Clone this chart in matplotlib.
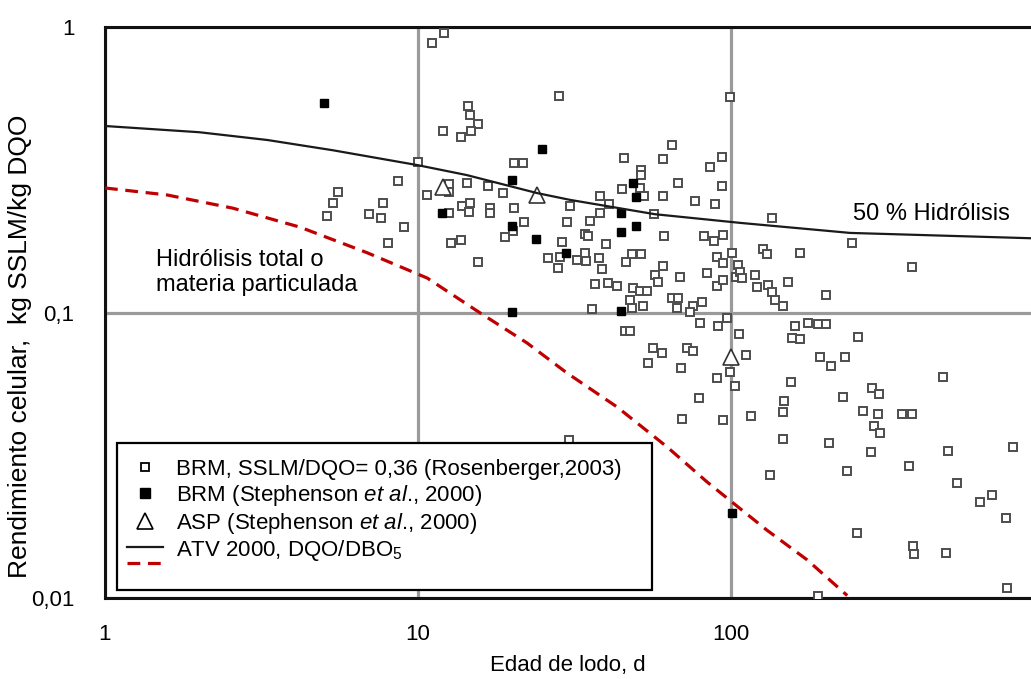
import matplotlib
matplotlib.use('Agg')
import matplotlib.pyplot as plt
from matplotlib.lines import Line2D
from matplotlib.patches import Rectangle
from matplotlib.legend_handler import HandlerBase

plt.rcParams['font.family'] = ['Liberation Sans', 'DejaVu Sans']
plt.rcParams['mathtext.fontset'] = 'custom'
plt.rcParams['mathtext.rm'] = 'Liberation Sans'
plt.rcParams['mathtext.it'] = 'Liberation Sans:italic'

#====================================+
# Data |
#====================================+
# BRM, SSLM/DQO = 0,36 (Rosenberger, 2003)  -> hollow squares
brm_ros_x = [5.12, 5.35, 5.55, 6.97, 7.62, 7.73, 8.63, 9.02, 8.02, 10.0, 10.7,
             11.1, 12.1, 14.4, 14.7, 15.6, 14.8, 13.7, 12.0, 20.3, 21.6,
             12.6, 12.6, 14.3, 16.7, 18.7, 12.6, 13.8, 14.7, 14.6, 17.0, 17.0,
             20.3, 21.8, 19.0, 20.1, 12.7, 13.7, 15.6, 28.2, 26.0, 28.0, 28.4,
             30.6, 29.9, 35.5, 38.1, 38.1, 40.8, 44.9, 51.2, 52.7, 60.6, 67.7,
             45.5, 60.6, 64.8, 51.6, 51.6, 93.6, 85.7, 93.6, 76.7, 88.9, 56.8,
             28.8, 34.2, 34.9, 39.9, 61.1, 32.2, 34.2, 34.4, 37.9, 38.7, 46.2,
             48.3, 51.6, 60.6, 57.2, 58.4, 68.7, 82.0, 88.3, 94.3, 90.2, 94.3,
             101, 83.8, 90.2, 94.3, 104, 36.8, 40.5, 43.2, 48.6, 51.2, 53.9,
             47.6, 48.3, 52.4, 64.8, 67.7, 67.2, 75.6, 80.8, 73.9, 36.0, 79.6,
             90.8, 97.1, 45.8, 47.6, 56.3, 60.2, 72.3, 75.6, 54.3, 69.2, 90.2,
             99.3, 79.0, 69.7, 94.3, 30.4, 103, 106, 160, 176, 190, 201, 157,
             166, 255, 112, 192, 231, 209, 155, 148, 147, 116, 228, 282, 297,
             264, 295, 352, 379, 286, 299, 476, 146, 206, 280, 493, 796, 370,
             235, 133, 527, 682, 625, 756, 253, 381, 383, 486, 762, 190, 135,
             244, 166, 126, 130, 105, 107, 108, 119, 121, 131, 135, 138, 147,
             152, 201, 379, 99.3]
brm_ros_y = [0.218, 0.242, 0.264, 0.221, 0.214, 0.242, 0.289, 0.199, 0.175, 0.336, 0.258,
             0.879, 0.953, 0.529, 0.492, 0.457, 0.432, 0.412, 0.432, 0.334, 0.334,
             0.282, 0.264, 0.284, 0.277, 0.262, 0.223, 0.236, 0.242, 0.225, 0.232, 0.223,
             0.232, 0.207, 0.184, 0.193, 0.175, 0.180, 0.150, 0.573, 0.155, 0.143, 0.156,
             0.236, 0.207, 0.209, 0.223, 0.256, 0.240, 0.271, 0.273, 0.256, 0.256, 0.284,
             0.348, 0.345, 0.386, 0.316, 0.303, 0.351, 0.324, 0.277, 0.246, 0.240, 0.221,
             0.177, 0.188, 0.185, 0.174, 0.185, 0.153, 0.162, 0.151, 0.155, 0.142, 0.150,
             0.160, 0.160, 0.146, 0.135, 0.128, 0.133, 0.185, 0.178, 0.187, 0.156, 0.149,
             0.162, 0.137, 0.124, 0.130, 0.133, 0.126, 0.127, 0.124, 0.122, 0.119, 0.119,
             0.111, 0.104, 0.105, 0.112, 0.112, 0.104, 0.105, 0.109, 0.1005, 0.103, 0.0919,
             0.0897, 0.0957, 0.0861, 0.0861, 0.0751, 0.0721, 0.0751, 0.0733, 0.0665, 0.0639, 0.0590,
             0.0619, 0.0502, 0.0424, 0.0420, 0.0357, 0.0553, 0.0841, 0.0897, 0.0919, 0.0912, 0.0912, 0.0814,
             0.0807, 0.0820, 0.0710, 0.0699, 0.0699, 0.0650, 0.0571, 0.0490, 0.0448, 0.0434, 0.0506, 0.0544, 0.0518,
             0.0452, 0.0441, 0.0441, 0.0441, 0.0400, 0.0379, 0.0594, 0.0360, 0.0349, 0.0325, 0.0327, 0.0338, 0.0290,
             0.0279, 0.0270, 0.0253, 0.0230, 0.0217, 0.0191, 0.0169, 0.0152, 0.0143, 0.0144, 0.0108, 0.0102, 0.214,
             0.175, 0.162, 0.167, 0.160, 0.147, 0.139, 0.132, 0.135, 0.123, 0.125, 0.118, 0.111, 0.105,
             0.128, 0.115, 0.144, 0.569]

# BRM (Stephenson et al., 2000) -> filled squares
brm_ste_x = [5.01, 24.9, 20.0, 48.6, 49.7, 44.5, 44.5, 49.7, 11.9, 20.0, 23.8, 29.7, 20.0, 44.5, 101]
brm_ste_y = [0.542, 0.374, 0.291, 0.284, 0.254, 0.223, 0.191, 0.201, 0.223, 0.201, 0.181, 0.162, 0.1005, 0.101, 0.0199]

# ASP (Stephenson et al., 2000) -> hollow triangles
asp_x = [12.0, 24.0, 100]
asp_y = [0.275, 0.258, 0.0699]

# ATV 2000 curves
atv50_x = [1, 2.0, 3.3, 5.35, 10, 14.3, 24, 30.6, 57, 107, 240, 908]
atv50_y = [0.450, 0.428, 0.402, 0.370, 0.328, 0.303, 0.262, 0.248, 0.221, 0.206, 0.190, 0.182]
atvtot_x = [1, 1.58, 2.56, 4.2, 6.87, 10.7, 15.8, 22.3, 29.9, 43.2, 62.5, 83.8, 99, 130, 175, 235]
atvtot_y = [0.273, 0.258, 0.232, 0.199, 0.162, 0.132, 0.0996, 0.0782, 0.0614, 0.0467, 0.0338,
            0.0255, 0.0220, 0.0173, 0.0136, 0.0102]

xticks = [1, 10, 100]
xtick_labels = ['1', '10', '100']
yticks = [0.01, 0.1, 1]
ytick_labels = ['0,01', '0,1', '1']


class HandlerStack(HandlerBase):
    # two line handles drawn one under the other
    def create_artists(self, legend, orig_handle, xdescent, ydescent, width, height, fontsize, trans):
        arts = []
        y0 = height / 2 - ydescent + 1
        for i, h in enumerate(orig_handle):
            ln = Line2D([-xdescent, -xdescent + width], [y0 - i * 11.5, y0 - i * 11.5])
            ln.update_from(h)
            ln.set_transform(trans)
            arts.append(ln)
        return arts


#================+
# Graph Plotting |
#================+
fig = plt.figure(figsize=(10.31, 6.79), dpi=100)
ax = fig.add_axes([105 / 1031, 1 - 598 / 679, 926 / 1031, 571 / 679])
ax.set_xscale('log')
ax.set_yscale('log')

ax.plot(brm_ros_x, brm_ros_y, ls='none', marker='s', ms=5.5, mfc='white', mec='#4d4d4d', mew=1.4, zorder=3)
ax.plot(brm_ste_x, brm_ste_y, ls='none', marker='s', ms=6, color='black', zorder=3)
ax.plot(asp_x, asp_y, ls='none', marker='^', ms=11, mfc='white', mec='#333333', mew=1.2, zorder=4)
l50, = ax.plot(atv50_x, atv50_y, color='#1a1a1a', lw=1.6, zorder=5)
ltot, = ax.plot(atvtot_x, atvtot_y, color='#c00000', lw=2.3, dashes=(4, 2.4), zorder=5)

ax.set_xlim(1, 908)
ax.set_ylim(0.01, 1)
ax.set_xticks(xticks)
ax.set_xticklabels(xtick_labels)
ax.set_yticks(yticks)
ax.set_yticklabels(ytick_labels)
ax.minorticks_off()
ax.tick_params(axis='both', length=0, labelsize=16)
ax.tick_params(axis='x', pad=19)
ax.tick_params(axis='y', pad=22)
ax.grid(True, which='major', color='#9a9a9a', lw=2.3)
ax.set_axisbelow(True)

for s in ['left', 'top', 'bottom']:
    ax.spines[s].set_linewidth(2.2)
    ax.spines[s].set_color('#111111')
ax.spines['right'].set_visible(False)

ax.set_xlabel('Edad de lodo, d', fontsize=16, labelpad=7)
ax.set_ylabel('Rendimiento celular,  kg SSLM/kg DQO', fontsize=19)
ax.yaxis.set_label_coords(-0.079, 0.44)

ax.text(0.808, 0.672, '50 % Hidrólisis', transform=ax.transAxes, fontsize=17, va='center', ha='left')
ax.text(0.055, 0.57, 'Hidrólisis total o\nmateria particulada', transform=ax.transAxes,
        fontsize=17, va='center', ha='left', linespacing=1.2)

# legend frame drawn by hand, the handle of the last entry is two lines
ax.add_patch(Rectangle((0.013, 0.014), 0.578, 0.257, transform=ax.transAxes,
                       facecolor='white', edgecolor='black', lw=1.6, zorder=6))
h1 = Line2D([], [], ls='none', marker='s', ms=6, mfc='white', mec='black', mew=1.3)
h2 = Line2D([], [], ls='none', marker='s', ms=6.5, color='black')
h3 = Line2D([], [], ls='none', marker='^', ms=11, mfc='white', mec='black', mew=1.2)
labels = ['BRM, SSLM/DQO= 0,36 (Rosenberger,2003)',
          r'BRM (Stephenson $\mathit{et\ al}$., 2000)',
          r'ASP (Stephenson $\mathit{et\ al}$., 2000)',
          r'ATV 2000, DQO/DBO$_\mathrm{5}$']
lgd = ax.legend([h1, h2, h3, (l50, ltot)], labels, handler_map={tuple: HandlerStack()},
                loc='upper left', bbox_to_anchor=(0.0238, 0.243), borderaxespad=0, borderpad=0,
                frameon=False, fontsize=16, handlelength=1.6, handletextpad=0.6, labelspacing=0.12)
lgd.set_zorder(7)

plt.savefig('out.png', dpi=100)
